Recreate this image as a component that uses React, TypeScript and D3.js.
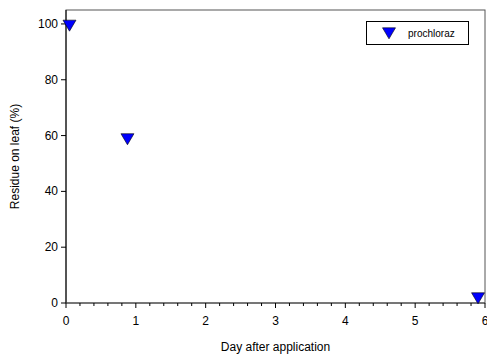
import React from "react";
import * as d3 from "d3";

const days = [0.05, 0.88, 5.9];
const residue = [99.5, 58.8, 1.8];
const seriesName = "prochloraz";
const xTicks = [0, 1, 2, 3, 4, 5, 6];
const yTicks = [0, 20, 40, 60, 80, 100];

export default function App() {
  const W = 487, H = 354;
  const left = 66, right = 485, top = 10, bottom = 303;
  const x = d3.scaleLinear().domain([0, 6]).range([left, right]);
  const y = d3.scaleLinear().domain([0, 105]).range([bottom, top]);
  const minor = d3.range(0, 6.0001, 0.2).filter((v) => Math.abs(v - Math.round(v)) > 1e-6);
  const tri = (cx: number, cy: number, s = 6.5) =>
    `M${cx - s},${cy - s * 0.8} L${cx + s},${cy - s * 0.8} L${cx},${cy + s * 0.9} Z`;
  const font = "Arial, 'Liberation Sans', sans-serif";
  return (
    <svg width={W} height={H} style={{ position: "absolute", left: 0, top: 0 }} fontFamily={font}>
      <rect x={0} y={0} width={W} height={H} fill="#fff" />
      <rect x={left} y={top} width={right - left} height={bottom - top} fill="none" stroke="#555" strokeWidth={1} />
      <line x1={left} x2={left} y1={top} y2={bottom} stroke="#000" />
      <line x1={left} x2={right} y1={bottom} y2={bottom} stroke="#444" strokeWidth={1.2} />
      {yTicks.map((t) => (
        <g key={"y" + t}>
          <line x1={left - 5} x2={left} y1={y(t)} y2={y(t)} stroke="#000" />
          <text x={left - 8} y={y(t) + 4} fontSize={12} textAnchor="end">{t}</text>
        </g>
      ))}
      {xTicks.map((t) => (
        <g key={"x" + t}>
          <line x1={x(t)} x2={x(t)} y1={bottom} y2={bottom + 5} stroke="#000" />
          <text x={x(t)} y={bottom + 22} fontSize={12} textAnchor="middle">{t}</text>
        </g>
      ))}
      {minor.map((t, i) => (
        <line key={"m" + i} x1={x(t)} x2={x(t)} y1={bottom} y2={bottom + 3} stroke="#000" />
      ))}
      {days.map((d, i) => (
        <path key={"p" + i} d={tri(x(d), y(residue[i]))} fill="#0000ff" stroke="#000" strokeWidth={0.6} />
      ))}
      <rect x={366.5} y={21.5} width={102} height={23} fill="#fff" stroke="#000" strokeWidth={1} />
      <path d={tri(389, 33)} fill="#0000ff" stroke="#000" strokeWidth={0.6} />
      <text x={408} y={36.5} fontSize={10}>{seriesName}</text>
      <text x={(left + right) / 2} y={351} fontSize={12} textAnchor="middle">Day after application</text>
      <text transform={`translate(19,${(top + bottom) / 2}) rotate(-90)`} fontSize={12} textAnchor="middle">Residue on leaf (%)</text>
    </svg>
  );
}
